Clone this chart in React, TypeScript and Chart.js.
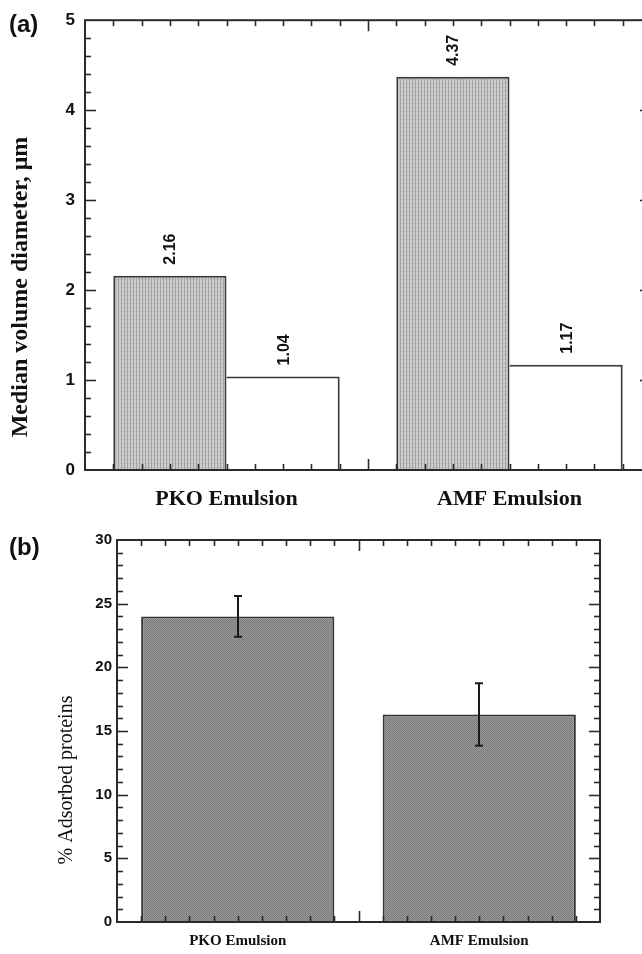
import React, { useEffect, useRef } from "react";
import { Chart, registerables } from "chart.js";
Chart.register(...registerables);

// ---------- data ----------
const categories = ["PKO Emulsion", "AMF Emulsion"];
const diameterShaded = [2.16, 4.37];
const diameterWhite = [1.04, 1.17];
const diameterLabelsShaded = ["2.16", "4.37"];
const diameterLabelsWhite = ["1.04", "1.17"];
const diameterTicks = [0, 1, 2, 3, 4, 5];
const adsorbedProteins = [24.0, 16.3];
const adsorbedError = [1.6, 2.45];
const adsorbedTicks = [0, 5, 10, 15, 20, 25, 30];

const SANS = "'Liberation Sans', Arial, sans-serif";
const SERIF = "'Liberation Serif', 'Times New Roman', serif";
const INK = "#2a2a2a";

function stripePattern(): CanvasPattern | string {
  const c = document.createElement("canvas");
  c.width = 3;
  c.height = 4;
  const g = c.getContext("2d");
  if (!g) return "#c0c0c0";
  const cols = ["#d2d2d2", "#a2a2a2", "#c8c8c8"];
  cols.forEach((col, i) => {
    g.fillStyle = col;
    g.fillRect(i, 0, 1, 4);
  });
  g.fillStyle = "#b6b6b6";
  g.fillRect(0, 3, 1, 1);
  return g.createPattern(c, "repeat") || "#c0c0c0";
}

function checkerPattern(): CanvasPattern | string {
  const c = document.createElement("canvas");
  c.width = 2;
  c.height = 2;
  const g = c.getContext("2d");
  if (!g) return "#8a8a8a";
  g.fillStyle = "#969696";
  g.fillRect(0, 0, 2, 2);
  g.fillStyle = "#7e7e7e";
  g.fillRect(0, 0, 1, 1);
  g.fillRect(1, 1, 1, 1);
  return g.createPattern(c, "repeat") || "#8a8a8a";
}

type FrameOpts = {
  yMajor: number;
  yMinor: number;
  majorLen: number;
  minorLen: number;
  panel: string;
  panelX: number;
  panelY: number;
  panelFont: string;
  yTitle: string;
  yTitleFont: string;
  yTitleX: number;
  yTitleY: number;
  valueLabels?: string[][];
  valueFont?: string;
  errors?: number[];
};

function framePlugin(o: FrameOpts) {
  return {
    id: "frame" + o.panel,
    afterDatasetsDraw(chart: any) {
      const { ctx, chartArea: a, scales } = chart;
      const y = scales.y;
      const line = (x1: number, y1: number, x2: number, y2: number) => {
        ctx.beginPath();
        ctx.moveTo(x1, y1);
        ctx.lineTo(x2, y2);
        ctx.stroke();
      };
      ctx.save();
      // error bars
      if (o.errors) {
        const meta = chart.getDatasetMeta(0);
        const vals = chart.data.datasets[0].data as number[];
        ctx.strokeStyle = "#1a1a1a";
        ctx.lineWidth = 2;
        meta.data.forEach((bar: any, i: number) => {
          const e = o.errors![i];
          const top = y.getPixelForValue(vals[i] + e);
          const bot = y.getPixelForValue(vals[i] - e);
          const x = Math.round(bar.x);
          line(x, top, x, bot);
          line(x - 4, top, x + 4, top);
          line(x - 4, bot, x + 4, bot);
        });
      }
      // value labels
      if (o.valueLabels) {
        ctx.fillStyle = "#111";
        ctx.font = o.valueFont || "bold 16px " + SANS;
        o.valueLabels.forEach((labels, di) => {
          const meta = chart.getDatasetMeta(di);
          meta.data.forEach((bar: any, i: number) => {
            ctx.save();
            ctx.translate(bar.x + 1, bar.y - 11);
            ctx.rotate(-Math.PI / 2);
            ctx.textAlign = "left";
            ctx.textBaseline = "middle";
            ctx.fillText(labels[i], 0, 0);
            ctx.restore();
          });
        });
      }
      // inward ticks on y
      ctx.strokeStyle = INK;
      ctx.lineWidth = 1.6;
      const nMinor = Math.round((y.max - y.min) / o.yMinor);
      const per = Math.round(o.yMajor / o.yMinor);
      for (let k = 1; k < nMinor; k++) {
        const v = y.min + k * o.yMinor;
        const py = Math.round(y.getPixelForValue(v)) + 0.5;
        const len = k % per === 0 ? o.majorLen : o.minorLen;
        line(a.left, py, a.left + len, py);
        line(a.right, py, a.right - len, py);
      }
      // inward ticks on x (ten per category)
      const n = chart.data.labels.length;
      const step = (a.right - a.left) / (n * 10);
      for (let k = 1; k < n * 10; k++) {
        const px = Math.round(a.left + k * step) + 0.5;
        const len = k % 10 === 0 ? o.majorLen : o.minorLen;
        line(px, a.bottom, px, a.bottom - len);
        line(px, a.top, px, a.top + len);
      }
      // frame
      ctx.lineWidth = 2;
      ctx.strokeStyle = INK;
      ctx.strokeRect(a.left, a.top, a.right - a.left, a.bottom - a.top);
      ctx.restore();
    },
    afterDraw(chart: any) {
      const { ctx } = chart;
      ctx.save();
      ctx.fillStyle = "#111";
      ctx.font = o.panelFont;
      ctx.textAlign = "left";
      ctx.textBaseline = "middle";
      ctx.fillText(o.panel, o.panelX, o.panelY);
      ctx.translate(o.yTitleX, o.yTitleY);
      ctx.rotate(-Math.PI / 2);
      ctx.font = o.yTitleFont;
      ctx.textAlign = "center";
      ctx.textBaseline = "middle";
      ctx.fillText(o.yTitle, 0, 0);
      ctx.restore();
    },
  };
}

export default function App() {
  const refA = useRef<HTMLCanvasElement | null>(null);
  const refB = useRef<HTMLCanvasElement | null>(null);

  useEffect(() => {
    if (!refA.current || !refB.current) return;
    const shaded = stripePattern();
    const dotted = checkerPattern();

    const chartA = new Chart(refA.current, {
      type: "bar",
      data: {
        labels: categories,
        datasets: [
          {
            data: diameterShaded,
            backgroundColor: shaded as any,
            borderColor: "#3a3a3a",
            borderWidth: { top: 2, left: 2, right: 2, bottom: 0 } as any,
            borderSkipped: "start",
            barPercentage: 1,
            categoryPercentage: 0.8,
          },
          {
            data: diameterWhite,
            backgroundColor: "#ffffff",
            borderColor: "#3a3a3a",
            borderWidth: { top: 2, left: 0, right: 2, bottom: 0 } as any,
            borderSkipped: "start",
            barPercentage: 1,
            categoryPercentage: 0.8,
          },
        ],
      },
      options: {
        animation: false,
        responsive: false,
        devicePixelRatio: 1,
        layout: { padding: { top: 20, right: 29, left: 0, bottom: 0 } },
        plugins: { legend: { display: false }, tooltip: { enabled: false } },
        scales: {
          x: {
            grid: { display: false, drawTicks: false },
            border: { display: false },
            ticks: {
              padding: 16,
              color: "#111",
              font: { family: SERIF, weight: "bold", size: 22 },
            },
            afterFit: (s: any) => {
              s.height = 50;
            },
          },
          y: {
            min: 0,
            max: 5,
            grid: { display: false, drawTicks: false },
            border: { display: false },
            afterBuildTicks: (s: any) => {
              s.ticks = diameterTicks.map((v) => ({ value: v }));
            },
            ticks: {
              padding: 10,
              color: "#111",
              font: { family: SANS, weight: "bold", size: 17 },
            },
            afterFit: (s: any) => {
              s.width = 85;
            },
          },
        },
      },
      plugins: [
        framePlugin({
          yMajor: 1,
          yMinor: 0.2,
          majorLen: 11,
          minorLen: 6,
          panel: "(a)",
          panelX: 9,
          panelY: 25,
          panelFont: "bold 24px " + SANS,
          yTitle: "Median volume diameter, \u03bcm",
          yTitleFont: "bold 24px " + SERIF,
          yTitleX: 21,
          yTitleY: 287,
          valueLabels: [diameterLabelsShaded, diameterLabelsWhite],
          valueFont: "bold 16px " + SANS,
        }) as any,
      ],
    });

    const chartB = new Chart(refB.current, {
      type: "bar",
      data: {
        labels: categories,
        datasets: [
          {
            data: adsorbedProteins,
            backgroundColor: dotted as any,
            borderColor: "#333333",
            borderWidth: { top: 2, left: 2, right: 2, bottom: 0 } as any,
            borderSkipped: "start",
            barPercentage: 1,
            categoryPercentage: 0.8,
          },
        ],
      },
      options: {
        animation: false,
        responsive: false,
        devicePixelRatio: 1,
        layout: { padding: { top: 20, right: 42, left: 0, bottom: 0 } },
        plugins: { legend: { display: false }, tooltip: { enabled: false } },
        scales: {
          x: {
            grid: { display: false, drawTicks: false },
            border: { display: false },
            ticks: {
              padding: 10,
              color: "#111",
              font: { family: SERIF, weight: "bold", size: 15 },
            },
            afterFit: (s: any) => {
              s.height = 32;
            },
          },
          y: {
            min: 0,
            max: 30,
            grid: { display: false, drawTicks: false },
            border: { display: false },
            afterBuildTicks: (s: any) => {
              s.ticks = adsorbedTicks.map((v) => ({ value: v }));
            },
            ticks: {
              padding: 5,
              color: "#111",
              font: { family: SANS, weight: "bold", size: 15 },
            },
            afterFit: (s: any) => {
              s.width = 117;
            },
          },
        },
      },
      plugins: [
        framePlugin({
          yMajor: 5,
          yMinor: 1,
          majorLen: 11,
          minorLen: 6,
          panel: "(b)",
          panelX: 9,
          panelY: 28,
          panelFont: "bold 24px " + SANS,
          yTitle: "% Adsorbed proteins",
          yTitleFont: "20px " + SERIF,
          yTitleX: 67,
          yTitleY: 260,
          errors: adsorbedError,
        }) as any,
      ],
    });

    return () => {
      chartA.destroy();
      chartB.destroy();
    };
  }, []);

  return (
    <div
      style={{
        position: "absolute",
        left: 0,
        top: 0,
        width: 642,
        height: 954,
        overflow: "hidden",
        background: "#ffffff",
      }}
    >
      <canvas
        ref={refA}
        width={680}
        height={520}
        style={{ position: "absolute", left: 0, top: 0, width: 680, height: 520 }}
      />
      <canvas
        ref={refB}
        width={642}
        height={434}
        style={{ position: "absolute", left: 0, top: 520, width: 642, height: 434 }}
      />
    </div>
  );
}
